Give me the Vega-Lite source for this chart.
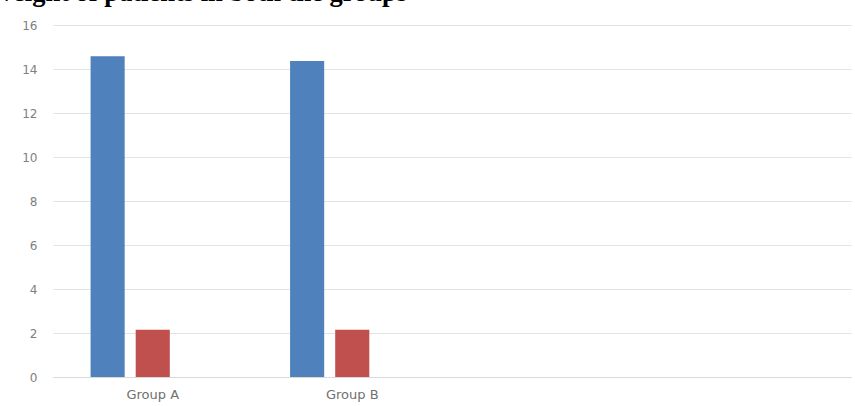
{
  "$schema": "https://vega.github.io/schema/vega-lite/v6.json",
  "autosize": "none",
  "width": 798,
  "height": 352,
  "padding": {"left": 53, "top": 25, "right": 4, "bottom": 29},
  "background": "white",
  "title": {
    "text": "Weight of patients in both the groups",
    "anchor": "start",
    "frame": "group",
    "font": "Liberation Serif",
    "fontSize": 26.5,
    "fontWeight": "bold",
    "color": "#000000",
    "baseline": "alphabetic",
    "dx": -65,
    "dy": 8,
    "offset": 0
  },
  "data": {
    "values": [
      {"group": "Group A", "series": "Series 1", "value": 14.58},
      {"group": "Group A", "series": "Series 2", "value": 2.15},
      {"group": "Group B", "series": "Series 1", "value": 14.36},
      {"group": "Group B", "series": "Series 2", "value": 2.15}
    ]
  },
  "mark": {"type": "bar"},
  "encoding": {
    "x": {
      "field": "group",
      "type": "nominal",
      "scale": {"domain": ["Group A", "Group B", " ", "  "], "paddingInner": 0, "paddingOuter": 0},
      "axis": {
        "title": null,
        "labelAngle": 0,
        "ticks": false,
        "domain": true,
        "domainColor": "#d9d9d9",
        "labelPadding": 11,
        "labelFont": "DejaVu Sans",
        "labelFontSize": 13,
        "labelColor": "#707070"
      }
    },
    "xOffset": {
      "field": "series",
      "type": "nominal",
      "scale": {"domain": ["Series 1", "Series 2", "Series 3"], "paddingInner": 0.244, "paddingOuter": 0.833}
    },
    "y": {
      "field": "value",
      "type": "quantitative",
      "scale": {"domain": [0, 16], "nice": false},
      "axis": {
        "title": null,
        "values": [0, 2, 4, 6, 8, 10, 12, 14, 16],
        "ticks": false,
        "domain": false,
        "grid": true,
        "gridColor": "#e3e3e3",
        "gridWidth": 1.2,
        "labelPadding": 16,
        "labelFont": "DejaVu Sans",
        "labelFontSize": 12,
        "labelColor": "#808080"
      }
    },
    "color": {
      "field": "series",
      "type": "nominal",
      "scale": {"domain": ["Series 1", "Series 2", "Series 3"], "range": ["#4F81BD", "#C0504D", "#9BBB59"]},
      "legend": null
    }
  },
  "config": {"view": {"stroke": null}}
}
